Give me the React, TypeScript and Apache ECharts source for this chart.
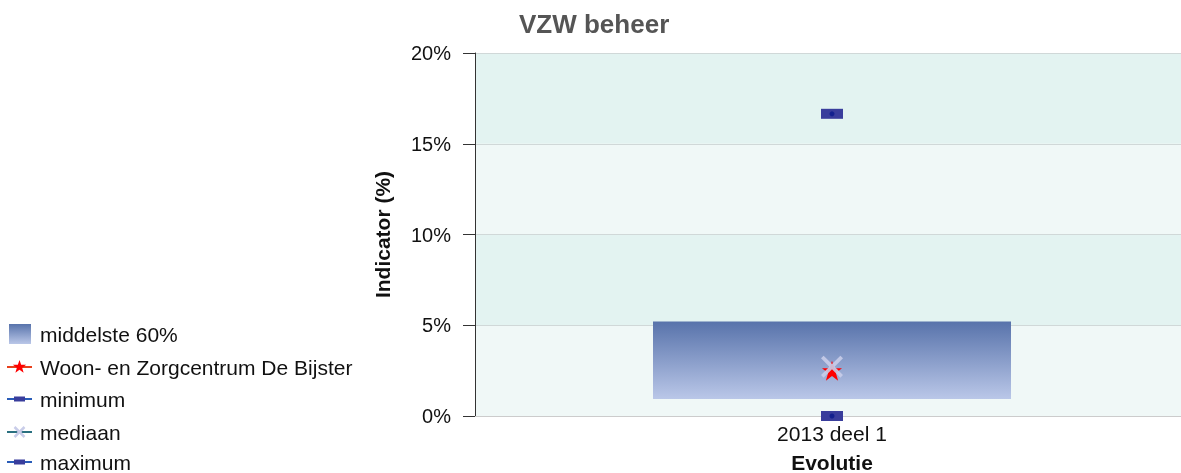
import React, { useEffect, useRef } from "react";
import * as echarts from "echarts";

const categories = ["2013 deel 1"];
const boxLow = [0.94];
const boxHigh = [5.2];
const ownValue = [2.5];
const minimumValue = [0];
const medianValue = [2.72];
const maximumValue = [16.65];
const yTicks = [0, 5, 10, 15, 20];
const legendNames = [
  "middelste 60%",
  "Woon- en Zorgcentrum De Bijster",
  "minimum",
  "mediaan",
  "maximum",
];

const STAR =
  "path://M50,0 L61.8,35.1 L98.1,35.1 L68.7,56.8 L79.4,91.5 L50,70 L20.6,91.5 L31.3,56.8 L1.9,35.1 L38.2,35.1 Z";
const CROSS =
  "path://M12,0 L50,38 L88,0 L100,12 L62,50 L100,88 L88,100 L50,62 L12,100 L0,88 L38,50 L0,12 Z";

function starPoints(cx: number, cy: number, r: number): number[][] {
  const pts: number[][] = [];
  for (let i = 0; i < 10; i++) {
    const rr = i % 2 === 0 ? r : r * 0.4;
    const a = -Math.PI / 2 + (i * Math.PI) / 5;
    pts.push([cx + rr * Math.cos(a), cy + rr * Math.sin(a)]);
  }
  return pts;
}

export default function App() {
  const ref = useRef<HTMLDivElement>(null);
  useEffect(() => {
    if (!ref.current) return;
    const chart = echarts.init(ref.current, undefined, { renderer: "svg" });
    const font = "'Liberation Sans', Arial, sans-serif";
    const grad = () =>
      new echarts.graphic.LinearGradient(0, 0, 0, 1, [
        { offset: 0, color: "#5873ab" },
        { offset: 1, color: "#bac7e8" },
      ]);

    const rowY = [334, 367, 399, 432, 462];
    const lx0 = 7;
    const lx1 = 32;
    const lcx = 19.5;
    const legendEls: any[] = [];
    legendEls.push({
      type: "rect",
      shape: { x: 9, y: rowY[0] - 10, width: 22, height: 20 },
      style: { fill: grad() },
    });
    legendEls.push({
      type: "line",
      shape: { x1: lx0, y1: rowY[1], x2: lx1, y2: rowY[1] },
      style: { stroke: "#e8401c", lineWidth: 2 },
    });
    legendEls.push({
      type: "polygon",
      shape: { points: starPoints(lcx, rowY[1], 7) },
      style: { fill: "#ff0000" },
    });
    [2, 4].forEach((k) => {
      legendEls.push({
        type: "line",
        shape: { x1: lx0, y1: rowY[k], x2: lx1, y2: rowY[k] },
        style: { stroke: "#2a5cb8", lineWidth: 2 },
      });
      legendEls.push({
        type: "rect",
        shape: { x: 14, y: rowY[k] - 2.5, width: 11, height: 5 },
        style: { fill: "#393d9c" },
      });
    });
    legendEls.push({
      type: "line",
      shape: { x1: lx0, y1: rowY[3], x2: lx1, y2: rowY[3] },
      style: { stroke: "#2a7080", lineWidth: 2 },
    });
    legendEls.push({
      type: "line",
      shape: { x1: lcx - 5, y1: rowY[3] - 5, x2: lcx + 5, y2: rowY[3] + 5 },
      style: { stroke: "#c9cde9", lineWidth: 2.5 },
    });
    legendEls.push({
      type: "line",
      shape: { x1: lcx - 5, y1: rowY[3] + 5, x2: lcx + 5, y2: rowY[3] - 5 },
      style: { stroke: "#c9cde9", lineWidth: 2.5 },
    });
    legendNames.forEach((n, i) => {
      legendEls.push({
        type: "text",
        x: 40,
        y: rowY[i],
        style: {
          text: n,
          fill: "#111",
          font: `21px ${font}`,
          verticalAlign: "middle",
        },
      });
    });

    chart.setOption({
      animation: false,
      textStyle: { fontFamily: font },
      title: {
        text: "VZW beheer",
        left: 514,
        top: 6,
        textStyle: { fontSize: 26, fontWeight: "bold", color: "#555555", fontFamily: font },
      },
      graphic: legendEls,
      grid: { left: 475, top: 53, width: 714, height: 363, outerBoundsMode: "none", containLabel: false },
      xAxis: {
        type: "category",
        data: categories,
        boundaryGap: true,
        axisLine: { lineStyle: { color: "#cccccc" } },
        axisTick: { show: false },
        axisLabel: { fontSize: 21, color: "#111", margin: 7, fontFamily: font },
        name: "Evolutie",
        nameLocation: "middle",
        nameGap: 36,
        nameTextStyle: { fontSize: 21, fontWeight: "bold", color: "#111", fontFamily: font },
      },
      yAxis: {
        type: "value",
        min: yTicks[0],
        max: yTicks[yTicks.length - 1],
        interval: 5,
        axisLine: { show: true, lineStyle: { color: "#333" } },
        axisTick: { show: true, length: 12, lineStyle: { color: "#333" } },
        axisLabel: { fontSize: 20, color: "#111", margin: 24, formatter: "{value}%", fontFamily: font },
        splitLine: { show: true, lineStyle: { color: "#d0d8d8" } },
        splitArea: { show: true, areaStyle: { color: ["#f0f8f7", "#e3f3f1"] } },
        name: "Indicator (%)",
        nameLocation: "middle",
        nameGap: 82,
        nameTextStyle: { fontSize: 21, fontWeight: "bold", color: "#111", fontFamily: font },
      },
      series: [
        {
          name: "base",
          type: "bar",
          stack: "box",
          data: boxLow,
          barWidth: 358,
          itemStyle: { color: "transparent" },
          silent: true,
        },
        {
          name: legendNames[0],
          type: "bar",
          stack: "box",
          data: boxHigh.map((h, i) => +(h - boxLow[i]).toFixed(2)),
          barWidth: 358,
          itemStyle: { color: grad() },
        },
        {
          name: legendNames[2],
          type: "line",
          data: minimumValue,
          symbol: "rect",
          symbolSize: [22, 10],
          itemStyle: { color: "#393d9c" },
          z: 5,
        },
        {
          name: legendNames[4],
          type: "line",
          data: maximumValue,
          symbol: "rect",
          symbolSize: [22, 10],
          itemStyle: { color: "#393d9c" },
          z: 5,
        },
        {
          name: "dots",
          type: "scatter",
          data: [minimumValue[0], maximumValue[0]],
          symbol: "circle",
          symbolSize: 5,
          itemStyle: { color: "#0a1a8c" },
          z: 6,
          silent: true,
        },
        {
          name: legendNames[1],
          type: "line",
          data: ownValue,
          symbol: STAR,
          symbolSize: 20,
          itemStyle: { color: "#ff0000" },
          z: 7,
        },
        {
          name: legendNames[3],
          type: "line",
          data: medianValue,
          symbol: CROSS,
          symbolSize: 22,
          itemStyle: { color: "#c9cde9", opacity: 0.9 },
          z: 8,
        },
      ],
    });
    return () => chart.dispose();
  }, []);
  return (
    <div
      ref={ref}
      style={{ position: "fixed", left: 0, top: 0, width: 1181, height: 473, overflow: "hidden" }}
    />
  );
}
